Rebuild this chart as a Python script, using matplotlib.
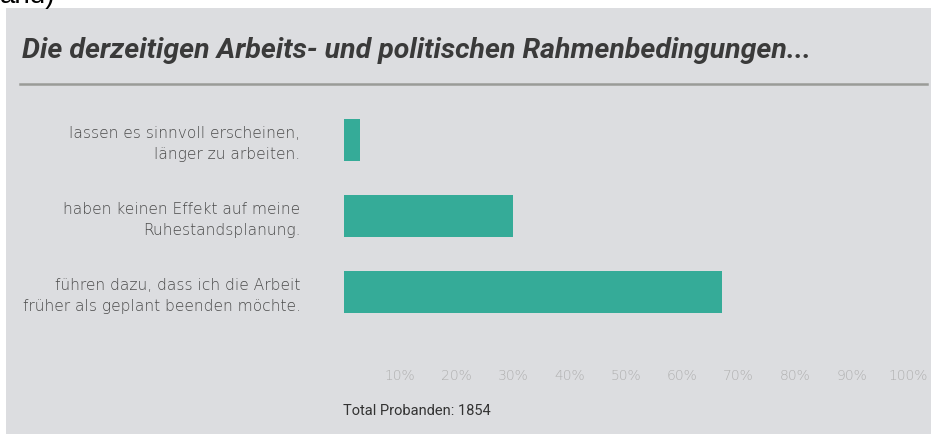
import matplotlib.pyplot as plt
from matplotlib.patches import Rectangle

W, H = 931, 434

title = "Die derzeitigen Arbeits- und politischen Rahmenbedingungen..."
categories = [
    "lassen es sinnvoll erscheinen,\nlänger zu arbeiten.",
    "haben keinen Effekt auf meine\nRuhestandsplanung.",
    "führen dazu, dass ich die Arbeit\nfrüher als geplant beenden möchte.",
]
values = [3, 30, 67]
ticks = [10, 20, 30, 40, 50, 60, 70, 80, 90, 100]
tick_labels = ["%d%%" % t for t in ticks]
footer = "Total Probanden: 1854"

bar_color = "#35ab98"
panel_color = "#dcdde0"
fonts = ["Roboto", "Liberation Sans", "DejaVu Sans"]
label_fonts = ["DejaVu Sans"]

fig = plt.figure(figsize=(W / 100, H / 100), dpi=100)
fig.patch.set_facecolor("white")

# grey panel behind everything
fig.patches.append(Rectangle((6 / W, 0), 1, 1 - 8 / H, transform=fig.transFigure,
                             facecolor=panel_color, edgecolor="none", zorder=-5))

# cut-off text from the page above
fig.text(0 / W, 1 - 3 / H, "and)", fontsize=20, color="black", va="baseline",
         family=["Liberation Sans", "DejaVu Sans"])

fig.text(22 / W, 1 - 58 / H, title, fontsize=20.5, style="italic", weight="bold",
         color="#3a3a3a", va="baseline", family=fonts)

# rule under the title
fig.add_artist(plt.Line2D([20 / W, 927 / W], [1 - 84 / H, 1 - 84 / H],
                          transform=fig.transFigure, color="#9a9b98", lw=1.8))

# bar axes: x 0..100 maps to px 343.5..908, y from px 100 to 330
x0, x1 = 343.5, 908
top, bot = 100, 330
ax = fig.add_axes([x0 / W, 1 - bot / H, (x1 - x0) / W, (bot - top) / H])
ax.set_facecolor("none")
ax.set_zorder(2)
ax.barh(range(len(values)), values, height=0.553, color=bar_color)
ax.set_xlim(0, 100)
ax.set_ylim(2 + 38 / 76, -40 / 76)
for s in ax.spines.values():
    s.set_visible(False)

ax.set_xticks(ticks)
ax.set_xticklabels(tick_labels)
ax.tick_params(axis="x", length=0, pad=28, labelsize=10, labelcolor="#b0b0b0")
ax.set_yticks(range(len(categories)))
ax.set_yticklabels(categories, linespacing=1.45)
ax.tick_params(axis="y", length=0, pad=31, labelsize=11.2, labelcolor="#4a4a4a")
for lab in ax.get_xticklabels() + ax.get_yticklabels():
    lab.set_family(label_fonts)
    lab.set_fontweight("light")

fig.text(343 / W, 1 - 411 / H, footer, fontsize=10.5, color="#333333", va="center",
         family=fonts)

fig.savefig("out.png", dpi=100)
